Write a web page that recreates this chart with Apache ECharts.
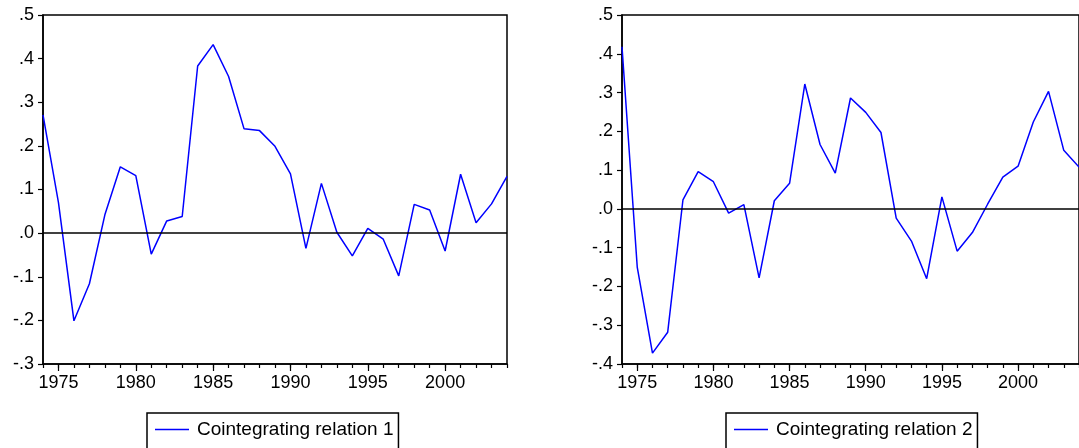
<!DOCTYPE html>
<html>
<head>
<meta charset="utf-8">
<script src="https://cdn.jsdelivr.net/npm/echarts@6/dist/echarts.min.js"></script>
<style>
  html, body { margin: 0; padding: 0; background: #fff; }
  #chart { width: 1079px; height: 448px; }
</style>
</head>
<body>
<div id="chart"></div>
<script>
// 年份与两条协整关系
var years = ['1974', '1975', '1976', '1977', '1978', '1979', '1980', '1981', '1982', '1983',
             '1984', '1985', '1986', '1987', '1988', '1989', '1990', '1991', '1992', '1993',
             '1994', '1995', '1996', '1997', '1998', '1999', '2000', '2001', '2002', '2003', '2004'];
var relation1 = [0.271, 0.070, -0.201, -0.116, 0.042, 0.152, 0.132, -0.048, 0.028, 0.038,
                 0.383, 0.432, 0.359, 0.239, 0.235, 0.199, 0.136, -0.035, 0.114, 0.002,
                 -0.052, 0.011, -0.014, -0.098, 0.066, 0.053, -0.041, 0.135, 0.024, 0.067, 0.130];
var relation2 = [0.418, -0.150, -0.372, -0.318, 0.023, 0.096, 0.070, -0.011, 0.011, -0.178,
                 0.021, 0.066, 0.322, 0.166, 0.092, 0.286, 0.249, 0.197, -0.024, -0.083,
                 -0.180, 0.031, -0.109, -0.061, 0.012, 0.082, 0.110, 0.224, 0.303, 0.151, 0.108];
var names = ['Cointegrating relation 1', 'Cointegrating relation 2'];
var yRange1 = [-0.3, 0.5];
var yRange2 = [-0.4, 0.5];

var chart = echarts.init(document.getElementById('chart'));
var FONT = 'Liberation Sans, Arial, sans-serif';

function isMajor(index, value) {
    return Number(value) % 5 === 0;
}
function fmtY(v) {
    var s = (Math.round(v * 10) / 10).toFixed(1);
    return s.replace('0.', '.');
}

// 主刻度轴（带标签）
function majorX(gi) {
    return {
        type: 'category', gridIndex: gi, data: years, boundaryGap: false, position: 'bottom',
        axisLine: { onZero: false, lineStyle: { color: '#000', width: 1.5 } },
        axisTick: { interval: isMajor, length: 7, lineStyle: { color: '#000', width: 1.2 } },
        axisLabel: { interval: isMajor, color: '#000', fontFamily: FONT, fontSize: 18, margin: 10 },
        splitLine: { show: false }
    };
}
// 次刻度轴（每年一个短刻度）
function minorX(gi) {
    return {
        type: 'category', gridIndex: gi, data: years, boundaryGap: false, position: 'bottom',
        axisLine: { show: false, onZero: false },
        axisTick: { interval: 0, length: 4, lineStyle: { color: '#000', width: 1.2 } },
        axisLabel: { show: false },
        splitLine: { show: false }
    };
}
function yAxis(gi, range) {
    return {
        type: 'value', gridIndex: gi, min: range[0], max: range[1], interval: 0.1,
        axisLine: { show: true, onZero: false, lineStyle: { color: '#000', width: 1.5 } },
        axisTick: { show: true, length: 5, lineStyle: { color: '#000', width: 1.2 } },
        axisLabel: { color: '#000', fontFamily: FONT, fontSize: 18, margin: 9, formatter: fmtY },
        splitLine: { show: false }
    };
}
function lineSeries(name, xi, yi, data) {
    return {
        name: name, type: 'line', xAxisIndex: xi, yAxisIndex: yi, data: data,
        symbol: 'none', lineStyle: { color: '#0000ff', width: 1.5 }, itemStyle: { color: '#0000ff' },
        markLine: {
            silent: true, symbol: ['none', 'none'], label: { show: false },
            lineStyle: { color: '#000', width: 1.5, type: 'solid' },
            data: [{ yAxis: 0 }]
        }
    };
}
function legend(name, left) {
    return {
        data: [name], left: left, top: 413, orient: 'horizontal',
        icon: 'rect', itemWidth: 34, itemHeight: 1.5,
        padding: [7, 5, 20, 8], borderColor: '#000', borderWidth: 1.5,
        textStyle: { color: '#000', fontFamily: FONT, fontSize: 19, padding: [0, 0, 0, 3] }
    };
}

var option = {
    animation: false,
    backgroundColor: '#fff',
    grid: [
        { left: 43, top: 15, width: 464, height: 349, show: true, borderColor: '#000', borderWidth: 1.5 },
        { left: 622, top: 15, width: 464, height: 349, show: true, borderColor: '#000', borderWidth: 1.5 }
    ],
    xAxis: [majorX(0), minorX(0), majorX(1), minorX(1)],
    yAxis: [yAxis(0, yRange1), yAxis(1, yRange2)],
    legend: [legend(names[0], 147), legend(names[1], 726)],
    series: [
        lineSeries(names[0], 0, 0, relation1),
        lineSeries(names[1], 2, 1, relation2)
    ]
};
chart.setOption(option);
</script>
</body>
</html>
